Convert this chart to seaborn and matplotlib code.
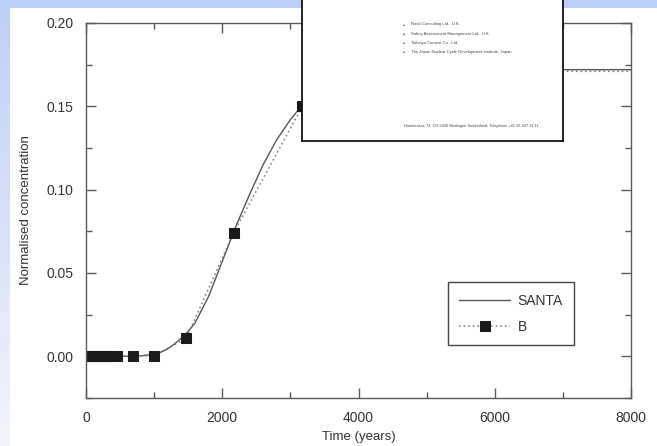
import numpy as np
import pandas as pd
import matplotlib
matplotlib.use("Agg")
import matplotlib.pyplot as plt
from matplotlib.ticker import MultipleLocator, FormatStrFormatter
import seaborn as sns

# ---- data ----
santa_time = [0, 500, 800, 1000, 1100, 1200, 1300, 1400, 1500, 1600, 1800, 2000,
              2200, 2400, 2600, 2800, 3000, 3200, 3500, 4000, 4500, 5000, 6000,
              7000, 8000]
santa_conc = [0.0, 0.0, 0.0003, 0.0012, 0.0025, 0.0045, 0.0075, 0.011, 0.0150,
              0.020, 0.036, 0.057, 0.078, 0.097, 0.115, 0.130, 0.142, 0.152,
              0.161, 0.168, 0.1705, 0.1715, 0.172, 0.172, 0.172]

b_time = [0, 50, 100, 150, 200, 250, 300, 350, 460, 690, 1000, 1470, 2166,
          3176, 4200, 5500, 6700, 10000]
b_conc = [0.0, 0.0, 0.0, 0.0, 0.0, 0.0, 0.0, 0.0, 0.0, 0.0, 0.0005, 0.0108,
          0.0741, 0.150, 0.163, 0.169, 0.171, 0.171]

x_ticks = [0, 2000, 4000, 6000, 8000]
y_ticks = [0.00, 0.05, 0.10, 0.15, 0.20]

box_lines = ["Nash Consulting Ltd., U.K.",
             "Safety Assessment Management Ltd., U.K.",
             "Taiheiyo Cement Co., Ltd.",
             "The Japan Nuclear Cycle Development Institute, Japan"]
box_footer = "Hardstrasse 73, CH-5430 Wettingen Switzerland, Telephone +41 56 437 11 11"

santa_df = pd.DataFrame({"time": santa_time, "conc": santa_conc})
b_df = pd.DataFrame({"time": b_time, "conc": b_conc})

sns.set_theme(style="ticks")
plt.rcParams["font.family"] = ["Liberation Sans", "DejaVu Sans"]

W, H = 657, 446
fig = plt.figure(figsize=(W / 100, H / 100), dpi=100)
fig.patch.set_facecolor("white")

# background gradient (slide)
bg = fig.add_axes([0, 0, 1, 1], zorder=-10)
grad = np.linspace(0, 1, 256).reshape(-1, 1)
top = np.array([0.74, 0.81, 0.97])
bot = np.array([0.95, 0.96, 0.99])
img = top[None, None, :] * (1 - grad[:, :, None]) + bot[None, None, :] * grad[:, :, None]
bg.imshow(img, aspect="auto", extent=[0, 1, 0, 1], origin="upper")
bg.add_patch(plt.Rectangle((10 / W, 0), 1 - 10 / W, (H - 8) / H,
                           facecolor="white", edgecolor="none"))
bg.set_xlim(0, 1)
bg.set_ylim(0, 1)
bg.axis("off")

# main axes
L, R, T, B = 86, 631, 23, 398
ax = fig.add_axes([L / W, (H - B) / H, (R - L) / W, (B - T) / H], zorder=1)
ax.set_facecolor("white")

line_col = "#555555"
sns.lineplot(data=santa_df, x="time", y="conc", ax=ax, color=line_col,
             linewidth=1.0, label="SANTA", sort=False, estimator=None)
sns.lineplot(data=b_df, x="time", y="conc", ax=ax, color="#777777",
             linewidth=1.1, linestyle=(0, (1, 2)), marker="s", markersize=6.5,
             markerfacecolor="#1a1a1a", markeredgecolor="#1a1a1a",
             label="B", sort=False, estimator=None)

ax.set_xlim(0, 8000)
ax.set_ylim(-0.025, 0.20)
ax.set_xticks(x_ticks)
ax.set_yticks(y_ticks)
ax.xaxis.set_minor_locator(MultipleLocator(1000))
ax.yaxis.set_minor_locator(MultipleLocator(0.025))
ax.yaxis.set_major_formatter(FormatStrFormatter("%.2f"))

spine_col = "#5a5a5a"
for s in ax.spines.values():
    s.set_visible(True)
    s.set_color(spine_col)
    s.set_linewidth(1.0)
ax.tick_params(which="both", direction="in", top=True, right=True,
               color=spine_col, labelcolor="#333333", labelsize=10)
ax.tick_params(which="major", length=7.5, width=1.0, pad=9)
ax.tick_params(which="minor", length=4, width=1.0)

ax.set_xlabel("Time (years)", fontsize=9.5, color="#333333", labelpad=4.5)
ax.set_ylabel("Normalised concentration", fontsize=9.5, color="#333333", labelpad=10)

leg = ax.legend(loc="lower right", bbox_to_anchor=(0.895, 0.141), fontsize=10,
                frameon=True, fancybox=False, framealpha=1, edgecolor="#444444",
                handlelength=3.7, handletextpad=0.5, labelspacing=0.9,
                borderpad=0.8, borderaxespad=0)
leg.get_frame().set_linewidth(1.0)
for t in leg.get_texts():
    t.set_color("#333333")

# overlay white box
bx0, bx1, by1 = 302, 563, 141
ov = fig.add_axes([bx0 / W, (H - by1) / H, (bx1 - bx0) / W, by1 / H], zorder=5)
ov.set_facecolor("white")
ov.set_xticks([])
ov.set_yticks([])
for k, s in ov.spines.items():
    s.set_color("#111111")
    s.set_linewidth(1.3)
ov.spines["top"].set_visible(False)
ov.set_xlim(bx0, bx1)
ov.set_ylim(by1, 0)
for i, txt in enumerate(box_lines):
    yy = 24.5 + i * 9.3
    ov.text(403, yy, "\u25a0", fontsize=2.5, color="#777777", va="center", ha="left")
    ov.text(411, yy, txt, fontsize=3.0, color="#444444", va="center", ha="left")
ov.text(404, 125.5, box_footer, fontsize=2.8, color="#444444", va="center", ha="left")

fig.savefig("out.png", dpi=100)
